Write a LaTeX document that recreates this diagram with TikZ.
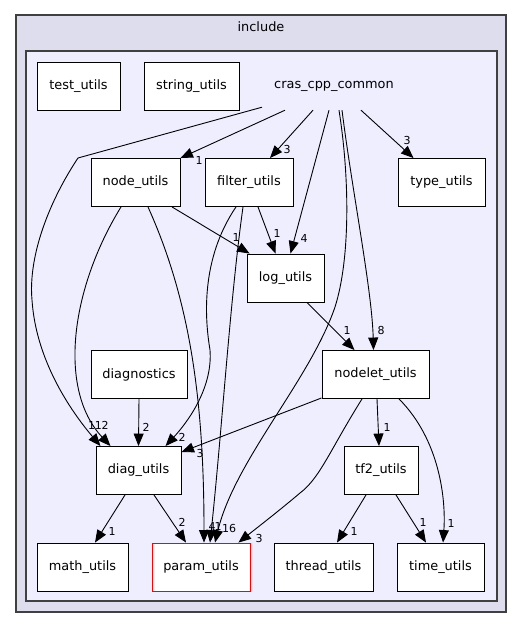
\documentclass[tikz,border=0pt]{standalone}
\usepackage{fontspec}
\setmainfont{DejaVu Sans}
\usetikzlibrary{arrows.meta,calc}
\definecolor{outerfill}{HTML}{DDDDEE}
\definecolor{innerfill}{HTML}{EEEEFF}
\definecolor{clusterline}{HTML}{404040}
\begin{document}
\begin{tikzpicture}[x=1pt,y=-1pt,
  dirbox/.style={draw=black, fill=white, line width=0.9pt, minimum width=#1, minimum height=48pt, inner sep=0pt, font=\fontsize{12.9}{15}\selectfont},
  dep/.style={draw=black, line width=0.9pt, -{Triangle[length=12.5pt,width=10pt]}},
  elab/.style={font=\fontsize{11}{13}\selectfont, inner sep=0pt},
  clab/.style={font=\fontsize{12.9}{15}\selectfont, inner sep=0pt}]
\useasboundingbox (0,0) rectangle (523,628);
% clusters
\draw[draw=clusterline, fill=outerfill, line width=1.2pt] (16,15) rectangle (506,612);
\node[clab] (inclab) at (261,27) {include};
\draw[draw=clusterline, fill=innerfill, line width=1.2pt] (26,51) rectangle (497,601);
% nodes
\node[dirbox=83pt] (test) at (78.5,86) {test\_utils};
\node[dirbox=95pt] (string) at (191.5,86) {string\_utils};
\node[clab, minimum width=130pt, minimum height=48pt] (cpp) at (334,86) {cras\_cpp\_common};
\node[dirbox=89pt] (node) at (135.5,182.5) {node\_utils};
\node[dirbox=88pt] (filter) at (249,182.5) {filter\_utils};
\node[dirbox=87pt] (type) at (441.5,182.5) {type\_utils};
\node[dirbox=77pt] (log) at (285.5,278) {log\_utils};
\node[dirbox=107pt] (nodelet) at (375.5,374.5) {nodelet\_utils};
\node[dirbox=96pt] (diagn) at (139,374.5) {diagnostics};
\node[dirbox=85pt] (diag) at (138.5,470.5) {diag\_utils};
\node[dirbox=74pt] (tf) at (381,470.5) {tf2\_utils};
\node[dirbox=91pt] (math) at (82.5,567) {math\_utils};
\node[dirbox=98pt, draw=red] (param) at (201,567) {param\_utils};
\node[dirbox=99pt] (thread) at (323.5,567) {thread\_utils};
\node[dirbox=87pt] (time) at (440.5,567) {time\_utils};
% edges from cras_cpp_common
\draw[dep] ([xshift=-72pt,yshift=3pt]cpp.south) -- (78,158)
  .. controls (50,200) and (28,255) .. (32,300)
  .. controls (36,360) and (70,410) .. ([xshift=-38pt]diag.north);
\draw[dep] ([xshift=-49pt]cpp.south) -- (node.north east);
\draw[dep] ([xshift=-21pt]cpp.south) -- ([xshift=21pt]filter.north);
\draw[dep] ([xshift=-5pt]cpp.south) -- ([xshift=5pt]log.north);
\draw[dep] ([xshift=5pt]cpp.south) .. controls (350,180) and (350,260) .. (335,307)
  .. controls (310,380) and (235,460) .. ([xshift=14pt]param.north);
\draw[dep] ([xshift=8pt]cpp.south) .. controls (352,190) and (372,290) .. ([xshift=-2pt]nodelet.north);
\draw[dep] ([xshift=27pt]cpp.south) -- ([xshift=-28pt]type.north);
% node_utils
\draw[dep] ([xshift=-14.5pt]node.south) .. controls (70,290) and (58,390) .. ([xshift=-28pt]diag.north);
\draw[dep] ([xshift=12.5pt]node.south) .. controls (190,300) and (204,400) .. ([xshift=3pt]param.north);
\draw[dep] ([xshift=36.5pt]node.south) -- ([xshift=3pt]log.north west);
% filter_utils
\draw[dep] ([xshift=-13pt]filter.south) .. controls (200,260) and (205,320) .. (210,350)
  .. controls (213,390) and (185,425) .. ([xshift=27pt]diag.north);
\draw[dep] ([xshift=-6pt]filter.south) .. controls (230,300) and (222,430) .. ([xshift=9pt]param.north);
\draw[dep] ([xshift=9pt]filter.south) -- ([xshift=-10pt]log.north);
% log_utils
\draw[dep] ([xshift=21.5pt]log.south) -- ([xshift=-21pt]nodelet.north);
% diagnostics
\draw[dep] (diagn.south) -- (diag.north);
% nodelet_utils
\draw[dep] ([yshift=1pt]nodelet.south west) -- ([yshift=-6pt]diag.north east);
\draw[dep] ([xshift=-13.5pt]nodelet.south) .. controls (330,450) and (320,478) .. (300,493)
  .. controls (280,510) and (258,527) .. ([xshift=-12pt]param.north east);
\draw[dep] ([xshift=1.5pt]nodelet.south) -- ([xshift=-2pt]tf.north);
\draw[dep] ([xshift=23.5pt]nodelet.south) .. controls (440,440) and (446,500) .. ([xshift=2.5pt]time.north);
% diag_utils
\draw[dep] ([xshift=-13.5pt]diag.south) -- ([xshift=12.5pt]math.north);
\draw[dep] ([xshift=15.5pt]diag.south) -- ([xshift=-15pt]param.north);
% tf2_utils
\draw[dep] ([xshift=-15pt]tf.south) -- ([xshift=13.5pt]thread.north);
\draw[dep] ([xshift=15pt]tf.south) -- ([xshift=-14.5pt]time.north);
% edge labels
\node[elab] (l1) at (95,425) {11};
\node[elab] (l2) at (105,425) {2};
\node[elab] (l3) at (146,427) {2};
\node[elab] (l4) at (182,437) {2};
\node[elab] (l5) at (200,453) {3};
\node[elab] (l6) at (199,160) {1};
\node[elab] (l7) at (287,149) {3};
\node[elab] (l8) at (304,238) {4};
\node[elab] (l9) at (407,140) {3};
\node[elab] (l10) at (236,237) {1};
\node[elab] (l11) at (277,233) {1};
\node[elab] (l12) at (347,330) {1};
\node[elab] (l13) at (381,330) {8};
\node[elab] (l14) at (387,427) {1};
\node[elab] (l15) at (451,523) {1};
\node[elab] (l16) at (423,522) {1};
\node[elab] (l17) at (354,531) {1};
\node[elab] (l18) at (259,538) {3};
\node[elab] (l19) at (182,522) {2};
\node[elab] (l20) at (212,526) {4};
\node[elab] (l21) at (218,526) {1};
\node[elab] (l22) at (229,528) {16};
\node[elab] (l23) at (112,531) {1};
\end{tikzpicture}
\end{document}
